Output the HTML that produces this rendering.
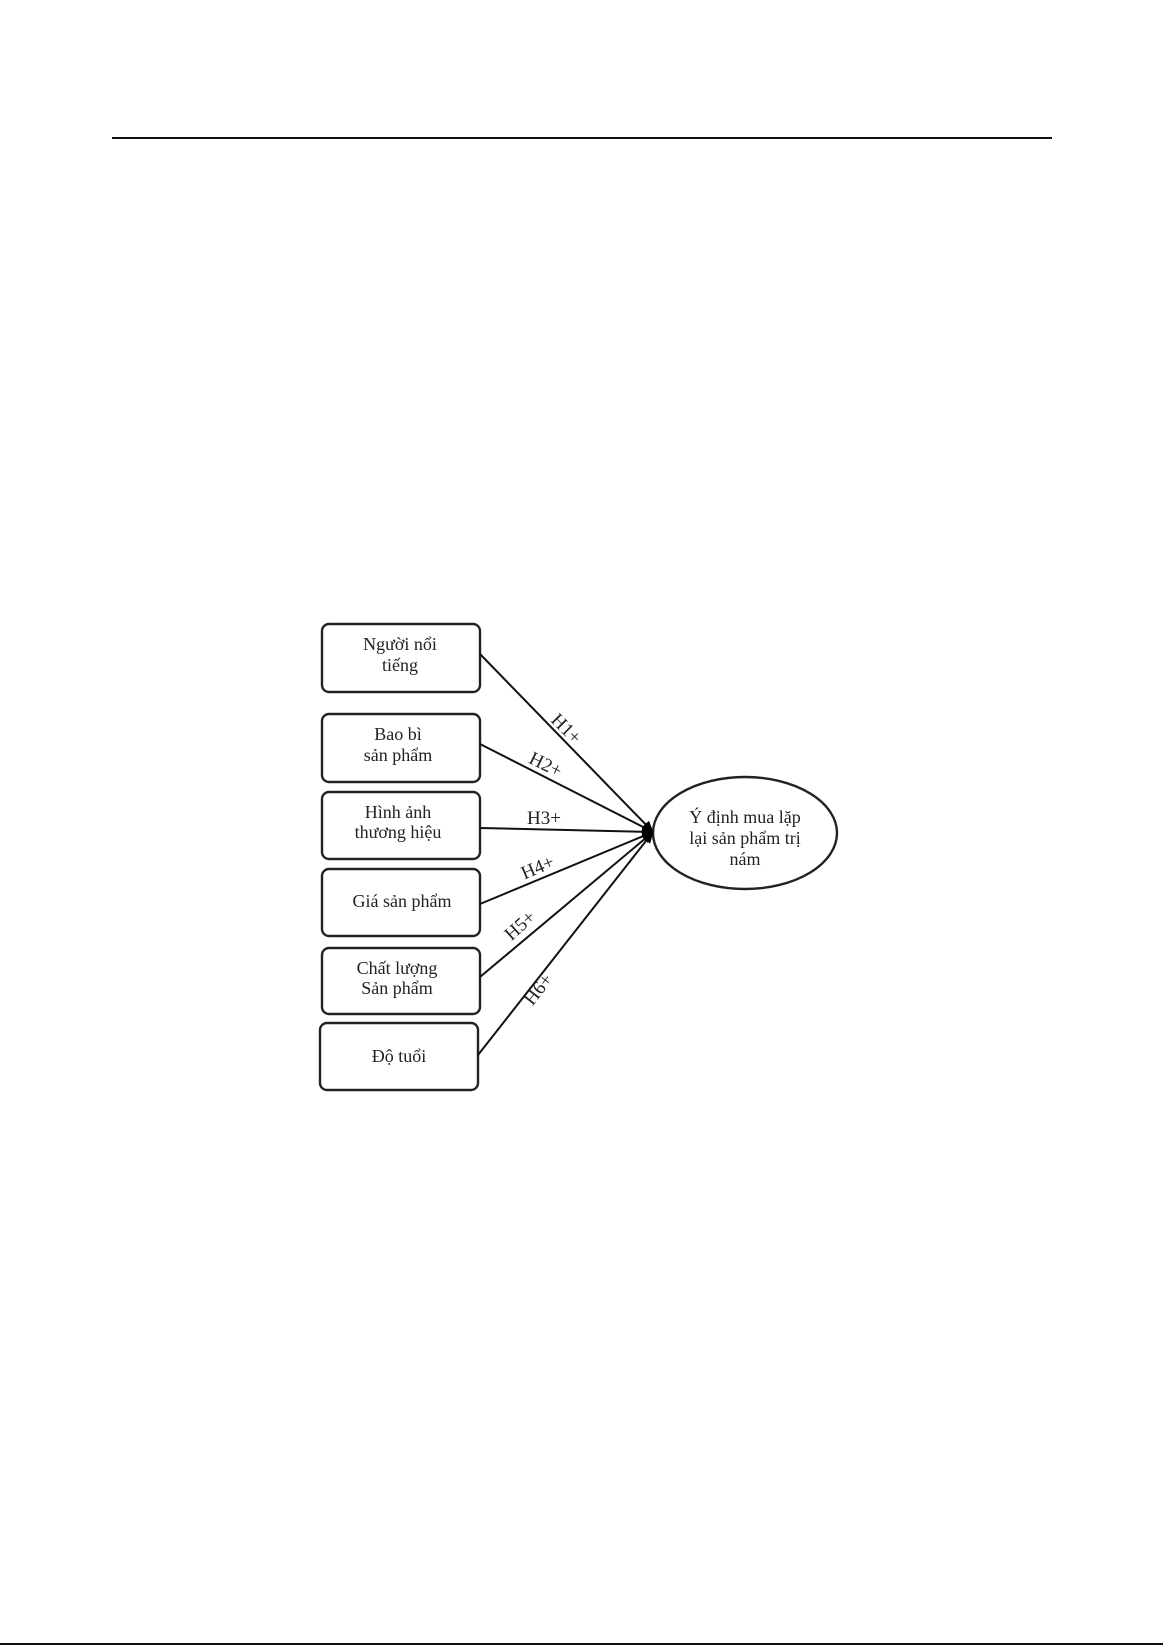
<!DOCTYPE html>
<html><head><style>
body{margin:0;background:#fff;width:1163px;height:1645px;overflow:hidden;position:relative;font-family:"Liberation Serif",serif}
</style></head><body>
<div style="position:absolute;left:112px;top:137px;width:940px;height:2px;background:#111"></div>
<div style="position:absolute;left:0;top:1643px;width:1163px;height:2px;background:#111"></div>
<svg width="1163" height="1645" style="position:absolute;left:0;top:0" font-family="Liberation Serif, serif" font-size="18" fill="#222">
<defs><marker id="a" markerWidth="12" markerHeight="10" refX="11" refY="5" orient="auto" markerUnits="userSpaceOnUse"><path d="M0,0 L12,5 L0,10 z" fill="#000"/></marker></defs>
<g fill="none" stroke="#222" stroke-width="2.4">
<rect x="322" y="624" width="158" height="68" rx="7"/>
<rect x="322" y="714" width="158" height="68" rx="7"/>
<rect x="322" y="792" width="158" height="67" rx="7"/>
<rect x="322" y="869" width="158" height="67" rx="7"/>
<rect x="322" y="948" width="158" height="66" rx="7"/>
<rect x="320" y="1023" width="158" height="67" rx="7"/>
<ellipse cx="745" cy="833" rx="92" ry="56"/>
</g>
<g stroke="#111" stroke-width="2" marker-end="url(#a)">
<line x1="480" y1="654" x2="653" y2="832"/>
<line x1="480" y1="744" x2="653" y2="832"/>
<line x1="480" y1="828" x2="653" y2="832"/>
<line x1="480" y1="904" x2="653" y2="832"/>
<line x1="480" y1="977" x2="653" y2="832"/>
<line x1="478" y1="1055" x2="653" y2="832"/>
</g>
<g text-anchor="middle">
<text x="400" y="650">Người nổi</text><text x="400" y="671">tiếng</text>
<text x="398" y="740">Bao bì</text><text x="398" y="761">sản phẩm</text>
<text x="398" y="818">Hình ảnh</text><text x="398" y="838">thương hiệu</text>
<text x="402" y="907">Giá sản phẩm</text>
<text x="397" y="974">Chất lượng</text><text x="397" y="994">Sản phẩm</text>
<text x="399" y="1062">Độ tuổi</text>
<text x="745" y="823">Ý định mua lặp</text><text x="745" y="844">lại sản phẩm trị</text><text x="745" y="865">nám</text>
<text x="562" y="733" transform="rotate(45 562 733)" font-size="19">H1+</text>
<text x="543" y="770" transform="rotate(26 543 770)" font-size="19">H2+</text>
<text x="544" y="824" font-size="19">H3+</text>
<text x="540" y="873" transform="rotate(-23 540 873)" font-size="19">H4+</text>
<text x="524" y="930" transform="rotate(-42 524 930)" font-size="19">H5+</text>
<text x="543" y="993" transform="rotate(-52 543 993)" font-size="19">H6+</text>
</g>
</svg>
</body></html>
